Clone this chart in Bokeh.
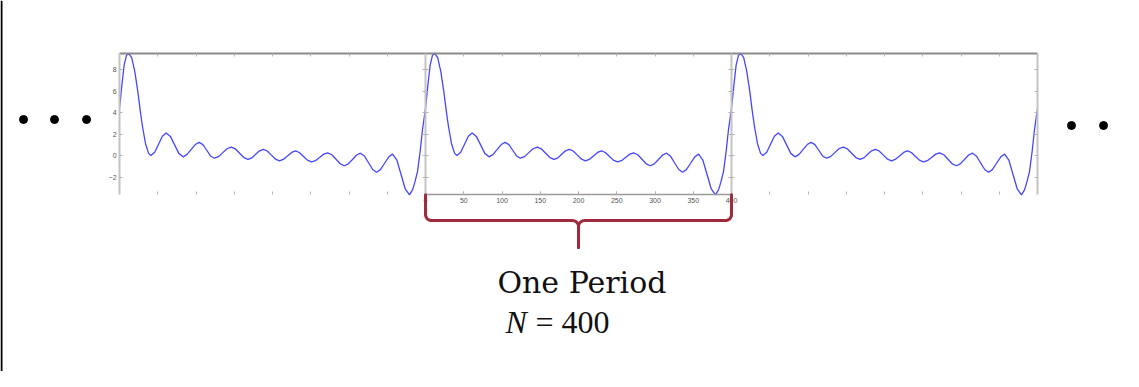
import numpy as np
from bokeh.plotting import figure
from bokeh.models import LinearAxis, Range1d, FixedTicker
from bokeh.core.properties import value
from bokeh.embed import file_html
from bokeh.resources import INLINE

# ---------------- data ----------------
period = 400
n_periods = 3
sample_idx = [0, 3, 6, 9, 12, 16, 20, 24, 27, 30, 34, 38, 41, 46, 51, 56, 61,
              66.5, 72, 77.5, 83, 88, 93.5, 99, 104, 109, 114, 119, 124,
              129.5, 135, 140.5, 146, 151.5, 157, 162.5, 168, 173, 178, 183,
              188, 193, 198.5, 204, 209, 214, 219.5, 225, 230, 235, 240.5,
              246, 251, 256, 261.5, 267, 272, 277.5, 283, 288.5, 294, 299,
              304.5, 310, 315, 320, 325.5, 331, 336, 341, 346.5, 352, 357,
              362.5, 368, 373.5, 379, 383, 386, 389.5, 393, 396, 400]
signal = [4.4, 6.5, 8.4, 9.3, 9.53, 9.09, 7.8, 5.9, 4.2, 2.7, 1.1, 0.2, 0.0,
          0.31, 1.05, 1.79, 2.1, 1.78, 0.99, 0.2, -0.12, 0.08, 0.55, 1.02,
          1.22, 1.01, 0.49, -0.04, -0.25, -0.1, 0.27, 0.63, 0.78, 0.61, 0.21,
          -0.19, -0.36, -0.22, 0.11, 0.44, 0.58, 0.42, 0.04, -0.34, -0.5,
          -0.36, -0.04, 0.29, 0.43, 0.28, -0.09, -0.45, -0.6, -0.48, -0.18,
          0.13, 0.25, 0.07, -0.35, -0.77, -0.95, -0.78, -0.37, 0.05, 0.22,
          -0.04, -0.67, -1.3, -1.56, -1.31, -0.72, -0.12, 0.13, -0.42, -1.77,
          -3.11, -3.66, -3.2, -2.5, -1.5, 0.4, 2.4, 4.4]
period_ticks = [0, 50, 100, 150, 200, 250, 300, 350, 400]
value_ticks = [-2, 0, 2, 4, 6, 8]
caption = "One Period"
n_symbol = "N"
n_text = "= %d" % period

# ---------------- layout constants ----------------
X_LO, X_HI = -155.6, 1312.4
Y_LO, Y_HI = -20.09, 14.42
y_min, y_max = min(signal), max(signal)

p = figure(width=1123, height=371, output_backend="svg", toolbar_location=None,
           title=None, x_axis_location=None, y_axis_location=None,
           x_range=Range1d(X_LO, X_HI), y_range=Range1d(Y_LO, Y_HI),
           min_border=0)
p.outline_line_color = None
p.background_fill_color = "white"
p.grid.visible = False
p.xgrid.grid_line_color = None
p.ygrid.grid_line_color = None
p.extra_x_ranges = {"p2": Range1d(X_LO - period, X_HI - period)}

# periodic signal, three periods
xs = np.concatenate([np.array(sample_idx[:-1]) + k * period for k in range(n_periods)] + [[n_periods * period]])
ys = np.concatenate([np.array(signal[:-1]) for k in range(n_periods)] + [[signal[-1]]])
p.line(xs, ys, line_color="#4646ff", line_width=1.3)

TICK = "#b4b4b4"

def axis(side, **kw):
    base = dict(axis_label=None, minor_tick_line_color=None,
                major_tick_line_color=TICK, major_tick_line_width=1,
                major_label_text_color=None)
    base.update(kw)
    ax = LinearAxis(**base)
    p.add_layout(ax, side)
    return ax

inner_x_ticks = [t + k * period for k in range(n_periods) for t in period_ticks[1:-1]]

# top border with inward ticks
axis("above", fixed_location=y_max, bounds=(0, n_periods * period),
     ticker=FixedTicker(ticks=inner_x_ticks), major_tick_in=3, major_tick_out=0,
     axis_line_color="#8a8a8a", axis_line_width=2)
# bottom ticks for panels 1 and 3 (no line)
axis("below", fixed_location=y_min, bounds=(0, n_periods * period),
     ticker=FixedTicker(ticks=inner_x_ticks), major_tick_in=3, major_tick_out=0,
     axis_line_color=None)
# bottom axis of the middle period, with labels
axis("below", x_range_name="p2", fixed_location=y_min, bounds=(0, period),
     ticker=FixedTicker(ticks=period_ticks), major_tick_in=3, major_tick_out=0,
     axis_line_color="#9a9a9a", axis_line_width=1.5,
     major_label_text_color="#555555", major_label_text_font_size="7px",
     major_label_text_font="Liberation Sans", major_label_standoff=3)
# vertical borders
axis("left", fixed_location=0, bounds=(y_min, y_max),
     ticker=FixedTicker(ticks=value_ticks), major_tick_in=3, major_tick_out=0,
     axis_line_color="#c4c4c4", axis_line_width=2,
     major_label_text_color="#555555", major_label_text_font_size="7px",
     major_label_text_font="Liberation Sans", major_label_standoff=3)
for k in range(1, n_periods):
    axis("left", fixed_location=k * period, bounds=(y_min, y_max),
         ticker=FixedTicker(ticks=value_ticks), major_tick_in=3, major_tick_out=3,
         axis_line_color="#c4c4c4", axis_line_width=2)
axis("left", fixed_location=n_periods * period, bounds=(y_min, y_max),
     ticker=FixedTicker(ticks=value_ticks), major_tick_in=0, major_tick_out=3,
     axis_line_color="#c4c4c4", axis_line_width=2)
# page left rule
axis("left", fixed_location=X_LO + 1.3, bounds=(Y_LO, Y_HI),
     ticker=FixedTicker(ticks=[]), major_tick_in=0, major_tick_out=0,
     axis_line_color="black", axis_line_width=2)

# ellipsis dots before and after
p.scatter([-125.5, -85.0, -43.1], [3.35] * 3, size=8, color="black")
p.scatter([1244.4, 1286.3, 1326.8], [2.79] * 3, size=8, color="black")

# brace under the middle period
bx0, bx1 = period, 2 * period
bmid = (bx0 + bx1) / 2
y_h = y_min - 2.39
y_tip = y_min - 4.9
rx, ry = 8.0, 0.56
t = np.linspace(0, np.pi / 2, 12)
left_x = np.concatenate([[bx0], bx0 + rx - rx * np.cos(t), bmid - rx + rx * np.sin(t), [bmid]])
left_y = np.concatenate([[y_min], y_h + ry - ry * np.sin(t), y_h - ry + ry * np.cos(t), [y_tip]])
right_x = 2 * bmid - left_x
BRACE = "#9e2a3b"
p.line(left_x, left_y, line_color=BRACE, line_width=3, line_join="round", line_cap="round", level="overlay")
p.line(right_x, left_y, line_color=BRACE, line_width=3, line_join="round", line_cap="round", level="overlay")

# captions
p.text([494.0], [-11.81], text=[caption], text_font=value("DejaVu Serif"),
       text_font_size="30px", text_color="#111111", text_baseline="alphabetic")
p.text([504.6], [-15.53], text=[n_symbol], text_font=value("Liberation Serif"),
       text_font_style="italic", text_font_size="32px", text_color="#111111",
       text_baseline="alphabetic")
p.text([543.8], [-15.53], text=[n_text], text_font=value("Liberation Serif"),
       text_font_size="32px", text_color="#111111", text_baseline="alphabetic")

open("out.html", "w").write(file_html(p, INLINE))
